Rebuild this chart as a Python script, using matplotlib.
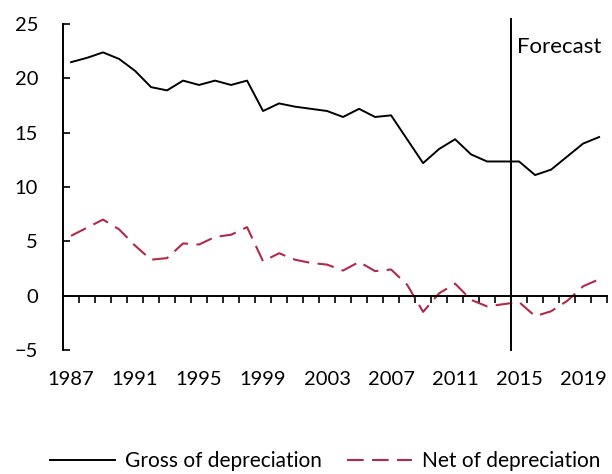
import numpy as np
import matplotlib
matplotlib.use("Agg")
import matplotlib.pyplot as plt

plt.rcParams['font.family'] = ['Lato', 'DejaVu Sans']

years = list(range(1987, 2021))
gross = [21.5, 21.9, 22.4, 21.8, 20.7, 19.2, 18.9, 19.8, 19.4, 19.8,
         19.4, 19.8, 17.0, 17.7, 17.4, 17.2, 17.0, 16.45, 17.2, 16.45,
         16.6, 14.4, 12.2, 13.5, 14.4, 13.0, 12.35, 12.35, 12.35, 11.1,
         11.6, 12.8, 14.0, 14.6]
net = [5.5, 6.25, 7.0, 6.1, 4.6, 3.3, 3.45, 4.8, 4.7, 5.4,
       5.6, 6.3, 3.15, 3.9, 3.3, 3.0, 2.85, 2.3, 3.1, 2.25,
       2.4, 1.0, -1.5, 0.2, 1.1, -0.4, -1.0, -0.8, -0.6, -1.9,
       -1.45, -0.5, 0.85, 1.5]
label_years = [1987, 1991, 1995, 1999, 2003, 2007, 2011, 2015, 2019]
forecast_start = 2015

fig = plt.figure(figsize=(6.12, 4.74), dpi=100)
ax = fig.add_axes([0.103, 0.262, 0.889, 0.687])

x = np.arange(len(years))
red = '#B22A4A'
ax.plot(x, gross, color='black', lw=1.4, label='Gross of depreciation')
ax.plot(x, net, color=red, lw=1.5, dashes=(8, 4), label='Net of depreciation')

# forecast divider
fx = years.index(forecast_start) - 0.5
ax.plot([fx, fx], [-5, 25.5], color='black', lw=1.4, clip_on=False)
ax.text(fx + 0.4, 22.9, 'Forecast', fontsize=16, va='center', ha='left')

ax.set_xlim(-0.5, len(years) - 0.5)
ax.set_ylim(-5, 25)
ax.set_yticks(np.arange(-5, 26, 5))
ax.tick_params(axis='y', direction='in', length=5, width=1.2, pad=18, labelsize=14.5)

# x axis at zero, tick marks at category boundaries, labels at bottom
ax.spines['bottom'].set_position(('data', 0))
ax.spines['top'].set_visible(False)
ax.spines['right'].set_visible(False)
ax.spines['left'].set_linewidth(1.4)
ax.spines['bottom'].set_linewidth(1.4)
ax.set_xticks(np.arange(-0.5, len(years), 1.0), minor=True)
ax.set_xticks([years.index(y) for y in label_years])
ax.set_xticklabels([str(y) for y in label_years])
ax.tick_params(axis='x', which='minor', direction='out', length=5, width=1.2)
ax.tick_params(axis='x', which='major', length=0, pad=54, labelsize=14.5)

ax.legend(loc='lower center', bbox_to_anchor=(0.532, -0.012), bbox_transform=fig.transFigure,
          ncol=2, frameon=False, fontsize=15, handlelength=3.1, columnspacing=1.2,
          handletextpad=0.5, borderaxespad=0.0)

fig.savefig('out.png', dpi=100)
